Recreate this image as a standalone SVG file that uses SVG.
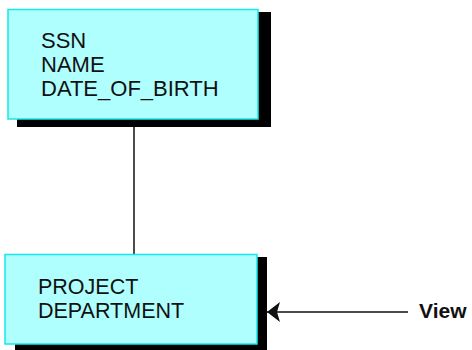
<svg xmlns="http://www.w3.org/2000/svg" width="472" height="350" viewBox="0 0 472 350">
<defs>
<style>
.shadow{fill:#000}
.box{fill:#b0ffff;stroke:#19e6e6;stroke-width:1.5}
.t{font-family:"Liberation Sans",Arial,sans-serif;font-size:21.5px;fill:#111}
.t2{font-size:22px}
.v{font-family:"Liberation Sans",Arial,sans-serif;font-size:21px;font-weight:bold;fill:#111}
.ln{stroke:#111;stroke-width:1.5;fill:none}
</style>
<marker id="ah" markerWidth="14" markerHeight="20" refX="13" refY="10" orient="auto" markerUnits="userSpaceOnUse">
<path d="M0,0 L13,10 L0,20 L3,10 Z" fill="#111"/>
</marker>
</defs>
<rect width="472" height="350" fill="#fff"/>
<g id="connectors">
<line class="ln" x1="408" y1="312" x2="267" y2="312" marker-end="url(#ah)"/>
<line class="ln" x1="134" y1="127" x2="134" y2="254"/>
</g>
<g id="node-person">
<rect class="shadow" x="17" y="12" width="254" height="115"/>
<rect class="box" x="8" y="9.5" width="250" height="109.5"/>
<text class="t t2" x="41" y="48">SSN</text>
<text class="t t2" x="41" y="72">NAME</text>
<text class="t t2" x="41" y="96">DATE_OF_BIRTH</text>
</g>
<g id="node-view">
<rect class="shadow" x="15" y="257" width="252" height="93"/>
<rect class="box" x="5" y="254.5" width="252" height="89.5"/>
<text class="t" x="38" y="294">PROJECT</text>
<text class="t" x="38" y="318">DEPARTMENT</text>
</g>
<g id="label-view">
<text class="v" x="419" y="318">View</text>
</g>
</svg>
